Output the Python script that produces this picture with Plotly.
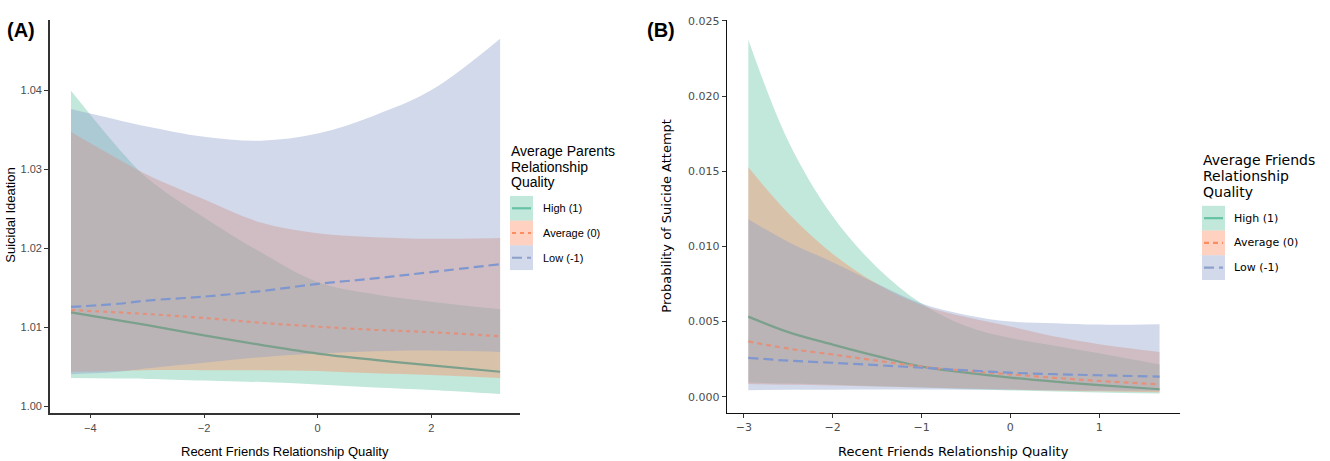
import plotly.graph_objects as go

# ---------------- Panel A data ----------------
a_x = [-4.34, -3.5, -3.0, -2.0, -1.0, 0.0, 1.0, 2.0, 3.21]
a_high_fit = [1.0119, 1.0109, 1.0103, 1.0090, 1.0078, 1.0067, 1.0059, 1.0052, 1.0044]
a_high_lo = [1.0036, 1.00355, 1.0035, 1.0033, 1.0031, 1.0028, 1.0024, 1.0021, 1.0016]
a_high_hi = [1.0399, 1.0326, 1.0289, 1.0239, 1.0195, 1.01575, 1.0142, 1.01325, 1.0123]
a_avg_fit = [1.0122, 1.0119, 1.0117, 1.0112, 1.0106, 1.0101, 1.0097, 1.0094, 1.0089]
a_avg_lo = [1.0044, 1.0045, 1.0046, 1.0046, 1.0046, 1.0045, 1.0042, 1.0040, 1.0036]
a_avg_hi = [1.0347, 1.03125, 1.0293, 1.0262, 1.02325, 1.0219, 1.0214, 1.0212, 1.0213]
a_low_fit = [1.0126, 1.0130, 1.0134, 1.0139, 1.0146, 1.0155, 1.0162, 1.0170, 1.0180]
a_low_lo = [1.0041, 1.0044, 1.00484, 1.00554, 1.00625, 1.0067, 1.0070, 1.00708, 1.0069]
a_low_hi = [1.0376, 1.0362, 1.0354, 1.0341, 1.0336, 1.0345, 1.0368, 1.0400, 1.0465]

a_xticks = [-4, -2, 0, 2]
a_xticklabels = ["\u22124", "\u22122", "0", "2"]
a_yticks = [1.00, 1.01, 1.02, 1.03, 1.04]
a_yticklabels = ["1.00", "1.01", "1.02", "1.03", "1.04"]

# ---------------- Panel B data ----------------
b_x = [-2.95, -2.5, -2.0, -1.5, -1.0, -0.5, 0.0, 0.5, 1.0, 1.68]
b_high_fit = [0.00533, 0.0043, 0.00347, 0.0027, 0.0020, 0.0016, 0.00127, 0.0010, 0.00077, 0.0005]
b_high_lo = [0.00094, 0.00088, 0.0008, 0.0007, 0.00062, 0.00052, 0.00042, 0.00035, 0.00028, 0.00022]
b_high_hi = [0.02375, 0.0170, 0.0120, 0.0086, 0.0062, 0.0047, 0.0039, 0.0034, 0.0029, 0.00215]
b_avg_fit = [0.00368, 0.0032, 0.00281, 0.0024, 0.0020, 0.00173, 0.00149, 0.00126, 0.00105, 0.00083]
b_avg_lo = [0.00085, 0.0008, 0.00075, 0.00068, 0.00062, 0.00055, 0.00048, 0.00042, 0.00036, 0.0003]
b_avg_hi = [0.01526, 0.0122, 0.0095, 0.0075, 0.0061, 0.0053, 0.00467, 0.0040, 0.0035, 0.00298]
b_low_fit = [0.00259, 0.0024, 0.00226, 0.0021, 0.00193, 0.00176, 0.0016, 0.0015, 0.00143, 0.00134]
b_low_lo = [0.00044, 0.00046, 0.00047, 0.00048, 0.00048, 0.00047, 0.00046, 0.00044, 0.00042, 0.0004]
b_low_hi = [0.0118, 0.0103, 0.00895, 0.00752, 0.0062, 0.00544, 0.0050, 0.00489, 0.0048, 0.00483]

b_xticks = [-3, -2, -1, 0, 1]
b_xticklabels = ["\u22123", "\u22122", "\u22121", "0", "1"]
b_yticks = [0.000, 0.005, 0.010, 0.015, 0.020, 0.025]
b_yticklabels = ["0.000", "0.005", "0.010", "0.015", "0.020", "0.025"]

group_names = ["High (1)", "Average (0)", "Low (-1)"]

# ---------------- styling ----------------
W, H = 1330, 461
COLORS = ["#66C2A5", "#FC8D62", "#8DA0CB"]
LINE_COLORS = ["#7BA08C", "#E3917B", "#7F97CF"]
FILLS = ["rgba(102,194,165,0.4)", "rgba(252,141,98,0.4)", "rgba(141,160,203,0.4)"]
DASH_A = ["solid", "4px,4px", "10px,5px"]
DASH_B = ["solid", "5px,4px", "10px,5px"]
FONT_A = "Liberation Sans, Arial, sans-serif"
FONT_B = "DejaVu Sans, sans-serif"


def px(x):
    return x / W


def py(y):
    return 1 - y / H


fig = go.Figure()


def add_panel(xs, fits, los, his, xa, ya, dashes):
    for lo, hi, f in zip(los, his, FILLS):
        fig.add_trace(go.Scatter(x=xs, y=lo, mode="lines", xaxis=xa, yaxis=ya,
                                 line=dict(width=0, shape="spline", smoothing=1.0),
                                 showlegend=False, hoverinfo="skip"))
        fig.add_trace(go.Scatter(x=xs, y=hi, mode="lines", xaxis=xa, yaxis=ya, fill="tonexty",
                                 fillcolor=f, line=dict(width=0, shape="spline", smoothing=1.0),
                                 showlegend=False, hoverinfo="skip"))
    for fit, c, d in zip(fits, LINE_COLORS, dashes):
        fig.add_trace(go.Scatter(x=xs, y=fit, mode="lines", xaxis=xa, yaxis=ya,
                                 line=dict(color=c, width=2.2, dash=d, shape="spline", smoothing=1.0),
                                 showlegend=False, hoverinfo="skip"))


add_panel(a_x, [a_high_fit, a_avg_fit, a_low_fit], [a_high_lo, a_avg_lo, a_low_lo],
          [a_high_hi, a_avg_hi, a_low_hi], "x", "y", DASH_A)
add_panel(b_x, [b_high_fit, b_avg_fit, b_low_fit], [b_high_lo, b_avg_lo, b_low_lo],
          [b_high_hi, b_avg_hi, b_low_hi], "x2", "y2", DASH_B)

ydom = [py(412), py(15)]
axA = dict(showline=True, linecolor="#333333", linewidth=1.6, ticks="outside", ticklen=4,
           tickwidth=1, tickcolor="#333333", showgrid=False, zeroline=False,
           tickfont=dict(family=FONT_A, size=11, color="#4D4D4D"))
axB = dict(showline=True, linecolor="#111111", linewidth=1.4, ticks="outside", ticklen=4,
           tickwidth=1, tickcolor="#333333", showgrid=False, zeroline=False,
           tickfont=dict(family=FONT_B, size=11, color="#4D4D4D"))

fig.update_layout(
    width=W, height=H, margin=dict(l=0, r=0, t=0, b=0),
    paper_bgcolor="white", plot_bgcolor="white", showlegend=False,
    xaxis=dict(axA, domain=[px(50), px(520)], range=[-4.71, 3.56], anchor="y",
               tickvals=a_xticks, ticktext=a_xticklabels),
    yaxis=dict(axA, domain=ydom, range=[0.99925, 1.048875], anchor="x",
               tickvals=a_yticks, ticktext=a_yticklabels),
    xaxis2=dict(axB, domain=[px(727), px(1180)], range=[-3.19, 1.91], anchor="y2",
                tickvals=b_xticks, ticktext=b_xticklabels),
    yaxis2=dict(axB, domain=ydom, range=[-0.00105, 0.02507], anchor="x2",
                tickvals=b_yticks, ticktext=b_yticklabels),
)

ann = []


def text(x, y, s, family, size, color="black", xanchor="center", angle=0, bold=False):
    if bold:
        s = "<b>" + s + "</b>"
    ann.append(dict(x=px(x), y=py(y), xref="paper", yref="paper", text=s, showarrow=False,
                    xanchor=xanchor, yanchor="middle", textangle=angle,
                    font=dict(family=family, size=size, color=color)))


# panel labels
text(5, 25, "(A)", FONT_A, 20, xanchor="left", bold=True)
text(645, 25, "(B)", FONT_A, 20, xanchor="left", bold=True)
# axis titles
text(285, 451, "Recent Friends Relationship Quality", FONT_A, 13)
text(11, 213, "Suicidal Ideation", FONT_A, 13, angle=-90)
text(953, 451, "Recent Friends Relationship Quality", FONT_B, 13)
text(667, 213, "Probability of Suicide Attempt", FONT_B, 13, angle=-90)

shapes = []


def legend(x0, title_lines, title_ys, row_tops, row_h, font, tsize, lsize, text_x, dashes):
    for t, y in zip(title_lines, title_ys):
        text(x0 - 1, y, t, font, tsize, xanchor="left")
    for i, (name, top) in enumerate(zip(group_names, row_tops)):
        shapes.append(dict(type="rect", xref="paper", yref="paper",
                           x0=px(x0), x1=px(x0 + 23), y0=py(top + row_h), y1=py(top),
                           fillcolor=FILLS[i], line=dict(width=0)))
        cy = top + row_h / 2
        shapes.append(dict(type="line", xref="paper", yref="paper",
                           x0=px(x0 + 2), x1=px(x0 + 21), y0=py(cy), y1=py(cy),
                           line=dict(color=COLORS[i], width=2.2, dash=dashes[i])))
        text(text_x, cy, name, font, lsize, xanchor="left")


legend(510, ["Average Parents", "Relationship", "Quality"], [148, 163.5, 179],
       [193, 218, 243], 25, FONT_A, 14, 11, 541, ["solid", "4px,4px", "10px,5px"])
legend(1202, ["Average Friends", "Relationship", "Quality"], [156.7, 173, 189.3],
       [203, 228, 253], 25, FONT_B, 14, 11, 1232, ["solid", "5px,4px", "10px,5px"])

fig.update_layout(annotations=ann, shapes=shapes)
fig.write_html("out.html", config={"displayModeBar": False},
               post_script="document.body.style.margin='0px';document.body.style.overflow='hidden';")
